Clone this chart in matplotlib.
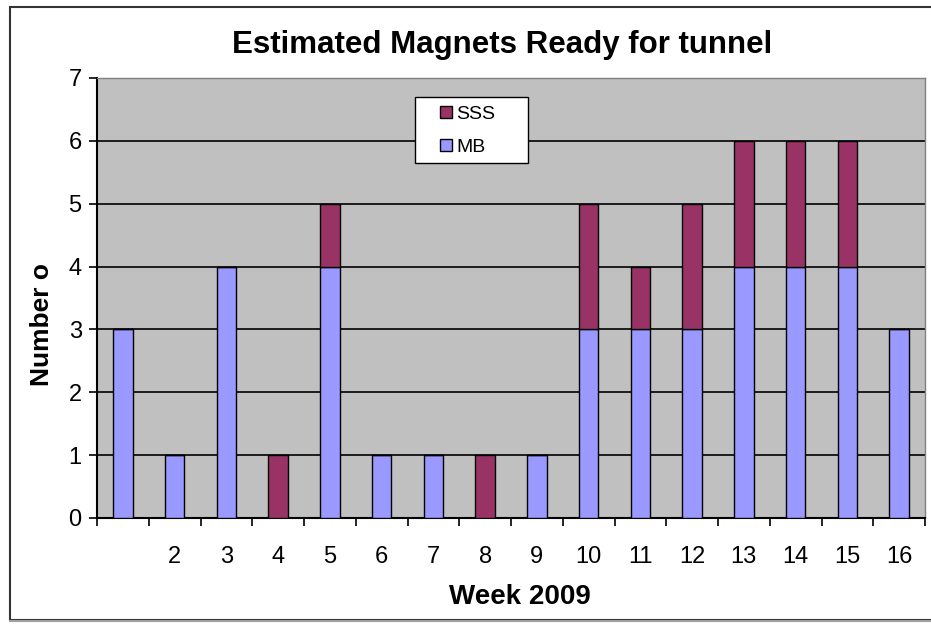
import numpy as np
import matplotlib.pyplot as plt
from matplotlib.patches import Rectangle

plt.rcParams['font.family'] = ['Liberation Sans', 'DejaVu Sans']

weeks = list(range(1, 17))
week_labels = [''] + [str(w) for w in range(2, 17)]
mb = [3, 1, 4, 0, 4, 1, 1, 0, 1, 3, 3, 3, 4, 4, 4, 3]
sss = [0, 0, 0, 1, 1, 0, 0, 1, 0, 2, 1, 2, 2, 2, 2, 0]

W, H = 931, 626
fig = plt.figure(figsize=(W / 100, H / 100), dpi=100)
fig.patch.set_facecolor('white')

def px_box(x0, y0, x1, y1):
    # pixel box (top-left origin) -> figure fraction rect
    return (x0 / W, 1 - y1 / H, (x1 - x0) / W, (y1 - y0) / H)

# chart frame
fig.patches.append(Rectangle((10 / W, 1 - 620 / H), 1, (620 - 7) / H, transform=fig.transFigure,
                             fill=False, edgecolor='#333333', lw=1.5))
fig.add_artist(plt.Line2D([10 / W, 1], [1 - 621 / H] * 2, color='#A0A0A0', lw=1.5,
                          transform=fig.transFigure))

ax = fig.add_axes(px_box(97, 78, 925, 518))
ax.set_facecolor('#C0C0C0')

x = np.array(weeks)
bw = 0.38
ax.bar(x, mb, bw, color='#9999FF', edgecolor='black', lw=1, label='MB', zorder=3)
ax.bar(x, sss, bw, bottom=mb, color='#993366', edgecolor='black', lw=1, label='SSS', zorder=3)

ax.set_xlim(0.5, 16.5)
ax.set_ylim(0, 7)
ax.set_yticks(range(0, 8))
ax.yaxis.grid(True, color='black', lw=1.2, zorder=1)
ax.set_axisbelow(True)

ax.set_xticks(np.arange(0.5, 17, 1))
ax.set_xticklabels([])
ax.set_xticks(x, minor=True)
ax.set_xticklabels(week_labels, minor=True)
ax.tick_params(axis='x', which='major', length=6, width=1.2, direction='out')
ax.tick_params(axis='x', which='minor', length=0, pad=20, labelsize=17)
ax.tick_params(axis='y', length=6, width=1.2, labelsize=17, pad=5)

for s in ['top', 'right']:
    ax.spines[s].set_color('#808080')
    ax.spines[s].set_linewidth(1)
for s in ['left', 'bottom']:
    ax.spines[s].set_color('black')
    ax.spines[s].set_linewidth(1.5)

fig.text(520 / W, 1 - 597 / H, 'Week 2009', ha='center', va='center',
         fontsize=20, fontweight='bold')
fig.text(42 / W, 1 - 325 / H, 'Number o', ha='center', va='center', rotation=90,
         fontsize=19, fontweight='bold')
fig.text(502 / W, 1 - 45 / H, 'Estimated Magnets Ready for tunnel',
         ha='center', va='center', fontsize=22.5, fontweight='bold')

# legend box
fig.patches.append(Rectangle(px_box(415, 97, 528, 163)[:2], 113 / W, 66 / H,
                             transform=fig.transFigure, facecolor='white',
                             edgecolor='black', lw=1, zorder=5))
handles, labels = ax.get_legend_handles_labels()
leg = fig.legend(handles[::-1], labels[::-1], loc='upper left',
                 bbox_to_anchor=(440 / W, 1 - 106 / H),
                 fontsize=14, frameon=False,
                 handlelength=0.6, handleheight=0.6, handletextpad=0.25,
                 labelspacing=0.8, borderpad=0, borderaxespad=0)
leg.set_zorder(6)

fig.savefig('out.png', dpi=100)
